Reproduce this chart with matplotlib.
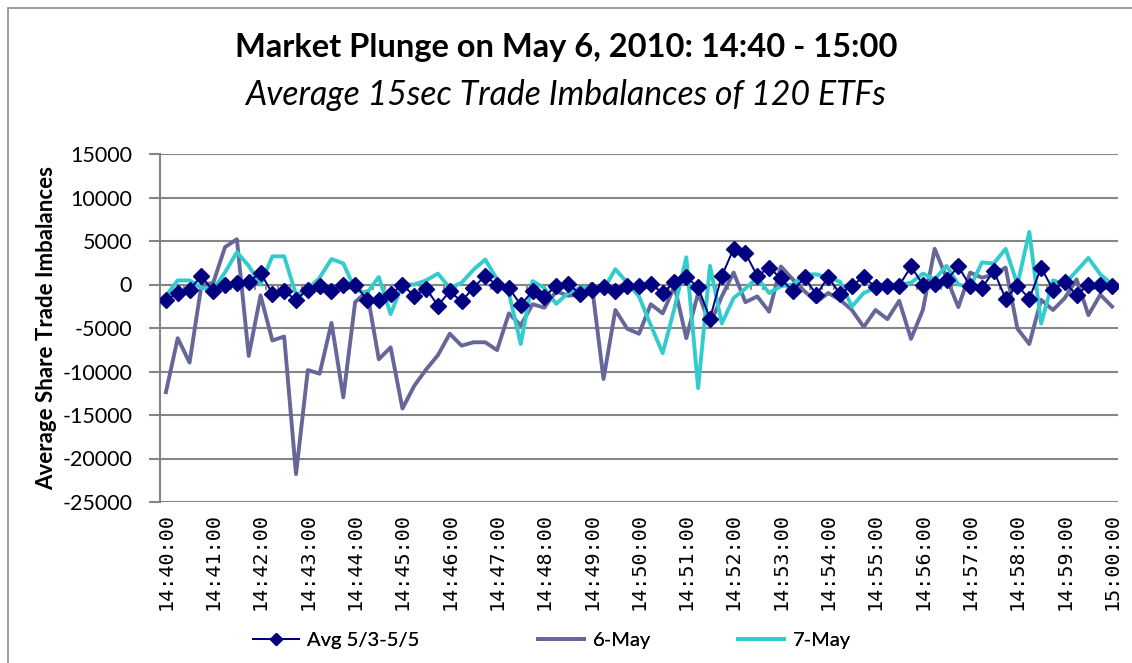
import numpy as np
import matplotlib
matplotlib.use("Agg")
import matplotlib.pyplot as plt
from matplotlib.patches import Rectangle

# 15-second intervals 14:40:00 .. 15:00:00 (81 points)
times = [f"{14 + (40 + s // 60) // 60}:{(40 + s // 60) % 60:02d}:{s % 60:02d}"
         for s in range(0, 20 * 60 + 1, 15)]

avg_53_55 = [-1760, -980, -590, 980, -780, 0, 200, 310, 1370, -1050,
             -780, -1760, -590, -200, -780, -80, 0, -1760, -1760, -1090,
             -80, -1290, -470, -2420, -780, -1950, -350, 980, -80, -390,
             -2340, -780, -1450, -120, 80, -1050, -590, -310, -780, -120,
             -120, 80, -980, 310, 860, -310, -3910, 980, 4100, 3590,
             980, 1950, 700, -780, 820, -1170, 860, -1090, -120, 860,
             -310, -120, -120, 2070, 0, 80, 470, 2100, -200, -390,
             1560, -1640, -120, -1640, 1950, -590, 310, -1250, 0, 0,
             -120]

may_6 = [-12380, -6170, -8980, -100, 200, 4300, 5200, -8200, -1250, -6440,
         -5980, -21800, -9840, -10250, -4410, -12970, -2030, -780, -8590, -7230,
         -14260, -11640, -9770, -8120, -5660, -7030, -6640, -6640, -7540, -3320,
         -4690, -2270, -2660, -780, -1290, -1170, 80, -10860, -2930, -5080,
         -5660, -2270, -3320, -200, -6170, -980, -4610, -1370, 1370, -2030,
         -1370, -3120, 2070, 590, -780, -2030, -980, -1760, -2930, -4880,
         -2930, -3980, -1880, -6250, -2930, 4100, 780, -2600, 1370, 780,
         1170, 1950, -5080, -6840, -1760, -2930, -1560, 590, -3520, -1170,
         -2540]

may_7 = [-1300, 470, 470, -390, -590, 1400, 3710, 2150, 0, 3240,
         3240, -1170, -590, 800, 2930, 2420, -590, -980, 860, -3400,
         0, 0, 470, 1250, -390, 200, 1700, 2870, 590, -980,
         -6840, 390, -390, -2230, -980, -390, -390, -590, 1760, 200,
         -1370, -4690, -7890, -2730, 3120, -11910, 2150, -4490, -1560, -470,
         780, -980, -200, 0, 1150, 1170, 780, 310, -2540, -980,
         -390, -80, 0, 200, 1250, 590, 2150, 0, -310, 2540,
         2420, 4100, 0, 6050, -4490, 470, 80, 1560, 3050, 1170,
         0]

yticks = list(range(-25000, 15001, 5000))

font = "Lato"
grid_col = "#868686"

fig = plt.figure(figsize=(11.32, 6.63), dpi=100)
fig.patches.append(Rectangle((8 / 1132, -0.1), 1.2, 1 - 8 / 663 + 0.1,
                             transform=fig.transFigure, fill=False,
                             edgecolor="#8c8c8c", linewidth=1.2))

ax = fig.add_axes([160 / 1132, 1 - 502 / 663, (1118 - 160) / 1132, (502 - 154) / 663])
x = np.arange(len(times))

l6, = ax.plot(x, may_6, color="#666699", linewidth=2.8, label="6-May", zorder=3)
l7, = ax.plot(x, may_7, color="#33CCCC", linewidth=2.8, label="7-May", zorder=4)
la, = ax.plot(x, avg_53_55, color="#000080", linewidth=1.4, marker="D", markersize=8,
              markeredgecolor="#000080", label="Avg 5/3-5/5", zorder=5)

ax.set_xlim(-0.5, len(times) - 0.5)
ax.set_ylim(-25000, 15000)
ax.set_yticks(yticks)
ax.set_yticklabels([str(v) for v in yticks], fontsize=15.5, family=font)
ax.grid(axis="y", color=grid_col, linewidth=1.5, zorder=0)
ax.set_axisbelow(True)

# category axis crosses at zero, with small tick marks
ax.axhline(0, color=grid_col, linewidth=1.5, zorder=1)
ymin, ymax = ax.get_ylim()
tick_len = (ymax - ymin) * 5 / 348
ax.vlines(np.arange(len(times) + 1) - 0.5, -tick_len, 0, color=grid_col,
          linewidth=1.3, zorder=1)

ax.set_xticks(x[::4])
ax.set_xticklabels(times[::4], rotation=90, fontsize=14.5, family="DejaVu Sans Mono")
ax.tick_params(axis="x", length=0, pad=8)
ax.tick_params(axis="y", length=8, color=grid_col, width=1.5, pad=12)
for s in ["top", "right", "bottom"]:
    ax.spines[s].set_visible(False)
ax.spines["left"].set_color(grid_col)
ax.spines["left"].set_linewidth(1.5)

ax.set_ylabel("Average Share Trade Imbalances", fontsize=16, fontweight="bold",
              family=font, labelpad=4)

fig.text(0.5, 1 - 47 / 663, "Market Plunge on May 6, 2010: 14:40 - 15:00",
         ha="center", va="center", fontsize=23.5, fontweight="bold", family=font)
fig.text(0.5, 1 - 95 / 663, "Average 15sec Trade Imbalances of 120 ETFs",
         ha="center", va="center", fontsize=24.3, style="italic", family=font)

# legend entries placed like the original (one per column)
for h, lx in [(la, 253), (l6, 538), (l7, 738)]:
    leg = fig.legend([h], [h.get_label()], loc="center left",
                     bbox_to_anchor=(lx / 1132, 1 - 640 / 663), frameon=False,
                     prop={"family": font, "size": 14.5}, handlelength=2.3,
                     handletextpad=0.4, borderpad=0, borderaxespad=0,
                     markerscale=0.75)
    fig.add_artist(leg)

fig.savefig("out.png", dpi=100)
